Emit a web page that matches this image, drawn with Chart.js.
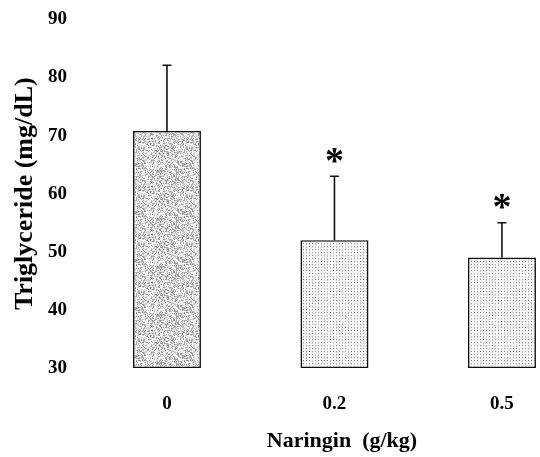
<!DOCTYPE html>
<html>
<head>
<meta charset="utf-8">
<script src="https://cdn.jsdelivr.net/npm/chart.js@4/dist/chart.umd.min.js"></script>
<style>
html,body{margin:0;padding:0;background:#fff;overflow:hidden;}
#wrap{width:540px;height:457px;overflow:hidden;}
</style>
</head>
<body>
<div id="wrap"><canvas id="c" width="610" height="457"></canvas></div>
<script>
// ---- data ----
const doseLabels = ['0', '0.2', '0.5'];
const triglycerideMean = [70.8, 52, 49];
const triglycerideErr = [11.3, 11, 6];
const significant = [false, true, true];
const yMin = 30, yMax = 90, yStep = 10;
const xTitle = 'Naringin  (g/kg)';
const yTitle = 'Triglyceride (mg/dL)';

const serif = "'Liberation Serif', 'Times New Roman', serif";
const ctx0 = document.getElementById('c').getContext('2d');

// deterministic coordinate hash for the print-like texture
function hash(i, j) {
  let h = Math.imul(i, 374761393) + Math.imul(j, 668265263);
  h = Math.imul(h ^ (h >>> 13), 1274126177);
  h = h ^ (h >>> 16);
  return (h >>> 0) / 4294967296;
}
// dense speckled texture (bar 1)
function speckle() {
  const n = 48, p = document.createElement('canvas');
  p.width = n; p.height = n;
  const g = p.getContext('2d');
  for (let i = 0; i < n; i++) for (let j = 0; j < n; j++) {
    const v = hash(i + 3, j + 7);
    const c = v < 0.45 ? 246 : Math.round(238 - (v - 0.45) * 190);
    g.fillStyle = 'rgb(' + c + ',' + c + ',' + c + ')';
    g.fillRect(i, j, 1, 1);
  }
  return ctx0.createPattern(p, 'repeat');
}
// regular dot grid texture (bars 2, 3)
function dotGrid() {
  const n = 30, p = document.createElement('canvas');
  p.width = n; p.height = n;
  const g = p.getContext('2d');
  g.fillStyle = '#f6f6f6'; g.fillRect(0, 0, n, n);
  for (let i = 0; i < n; i += 3) for (let j = 0; j < n; j += 3) {
    const v = hash(i + 101, j + 57);
    const c = Math.round(110 + v * 90);
    g.fillStyle = 'rgb(' + c + ',' + c + ',' + c + ')';
    g.fillRect(i, j, 1, 1);
    if (v > 0.5) { g.fillStyle = '#cfcfcf'; g.fillRect(i, j + 1, 1, 1); }
  }
  return ctx0.createPattern(p, 'repeat');
}
const fills = [speckle(), dotGrid(), dotGrid()];

const errorPlugin = {
  id: 'errorBars',
  afterDatasetsDraw(chart) {
    const ctx = chart.ctx;
    const xs = chart.scales.x, ys = chart.scales.y;
    ctx.save();
    ctx.strokeStyle = '#111';
    ctx.lineWidth = 1.6;
    triglycerideMean.forEach((m, i) => {
      const x = xs.getPixelForValue(i);
      const yb = ys.getPixelForValue(m);
      const yt = ys.getPixelForValue(m + triglycerideErr[i]);
      ctx.beginPath();
      ctx.moveTo(x, yb); ctx.lineTo(x, yt);
      ctx.moveTo(x - 4.5, yt); ctx.lineTo(x + 4.5, yt);
      ctx.stroke();
      if (significant[i]) {
        ctx.fillStyle = '#000';
        ctx.font = "bold 38px " + serif;
        ctx.textAlign = 'center';
        const mt = ctx.measureText('*');
        const h = mt.actualBoundingBoxAscent + mt.actualBoundingBoxDescent;
        const cy = yt - 21;
        ctx.textBaseline = 'alphabetic';
        ctx.fillText('*', x, cy + mt.actualBoundingBoxAscent - h / 2);
      }
    });
    ctx.restore();
  }
};

new Chart(document.getElementById('c'), {
  type: 'bar',
  data: {
    datasets: [{
      data: triglycerideMean.map((v, i) => ({ x: i, y: v })),
      backgroundColor: fills,
      borderColor: '#111',
      borderWidth: 1.6,
      borderSkipped: false,
      base: yMin,
      barPercentage: 0.406,
      categoryPercentage: 1
    }]
  },
  options: {
    responsive: false,
    animation: false,
    events: [],
    layout: { padding: { top: 17, left: 6, right: 1, bottom: 0 } },
    plugins: { legend: { display: false }, tooltip: { enabled: false } },
    scales: {
      x: {
        type: 'linear',
        offset: false,
        min: -0.549,
        max: 2.639,
        afterBuildTicks: (s) => { s.ticks = doseLabels.map((_, i) => ({ value: i })); },
        afterFit: (s) => { s.height = 89; },
        grid: { display: false, drawTicks: false },
        border: { display: false },
        ticks: {
          padding: 25,
          maxRotation: 0,
          autoSkip: false,
          color: '#000',
          font: { family: serif, size: 19, weight: 'bold' },
          callback: (v) => doseLabels[v] !== undefined ? doseLabels[v] : ''
        },
        title: {
          display: true, text: xTitle, color: '#000',
          font: { family: serif, size: 22, weight: 'bold' },
          padding: { top: 12, bottom: 2 }
        }
      },
      y: {
        min: yMin, max: yMax,
        afterFit: (s) => { s.width = 69; },
        grid: { display: false, drawTicks: false },
        border: { display: false },
        ticks: {
          stepSize: yStep, padding: 8, color: '#000',
          font: { family: serif, size: 19, weight: 'bold' }
        },
        title: {
          display: true, text: yTitle, color: '#000',
          font: { family: serif, size: 26, weight: 'bold' },
          padding: { top: 4, bottom: 4 }
        }
      }
    }
  },
  plugins: [errorPlugin]
});
</script>
</body>
</html>
